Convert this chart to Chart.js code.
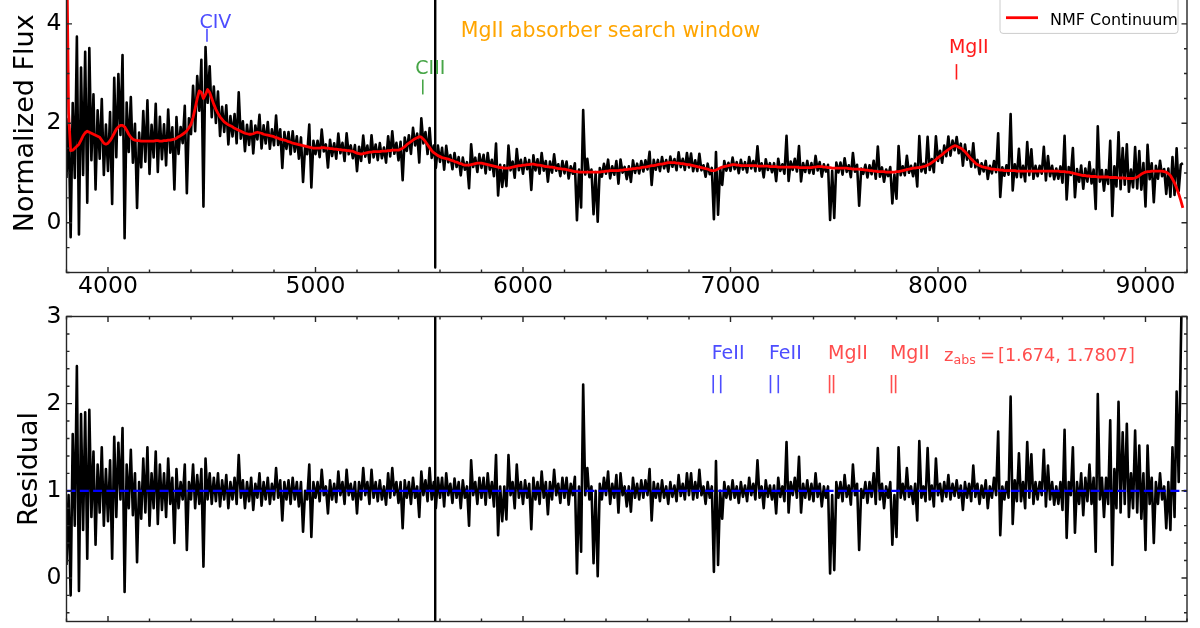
<!DOCTYPE html>
<html lang="en">
<head>
  <meta charset="UTF-8">
  <title>NMF continuum fit and residual</title>
  <script src="https://cdn.jsdelivr.net/npm/chart.js"></script>
  <style>
    html, body { margin: 0; padding: 0; background: #fff; overflow: hidden; }
    #page { position: relative; width: 1200px; height: 628px; overflow: hidden; background: #fff; }
    #fluxChart { position: absolute; left: 0; top: -45px; }
    #residChart { position: absolute; left: 0; top: 290px; }
  </style>
</head>
<body>
<div id="page">
  <canvas id="fluxChart" width="1200" height="345"></canvas>
  <canvas id="residChart" width="1200" height="370"></canvas>
</div>

<script>
  // wavelength grid: 3800 A to 9180 A, one sample every 10 A
  const waveStart = 3800;
  const waveStep = 10;

  // residual (flux / continuum), 20 samples per row (200 A)
  const residual = [
    0.15, 0.95, -0.20, 1.65, 0.60, 2.43, -0.15, 1.88, 0.55, 1.90, 0.22, 1.93, 0.70, 1.45, 0.38, 1.30, 0.75, 1.50, 0.60, 1.25,   // 3800
    0.65, 1.35, 0.22, 1.62, 0.70, 1.55, 0.90, 1.72, -0.16, 1.30, 0.80, 1.47, 0.72, 1.20, 0.18, 1.10, 0.68, 1.37, 0.75, 1.50,   // 4000
    0.60, 1.20, 0.80, 1.45, 0.62, 1.30, 0.78, 1.20, 0.70, 1.37, 0.85, 1.15, 0.40, 1.25, 0.80, 1.10, 0.90, 1.30, 0.32, 1.10,    // 4200
    0.90, 1.30, 0.80, 1.18, 0.85, 1.25, 0.13, 1.37, 0.90, 1.20, 0.85, 1.15, 0.88, 1.20, 0.82, 1.12, 0.90, 1.18, 0.80, 1.10,    // 4400
    0.90, 1.15, 0.85, 1.41, 0.92, 1.12, 0.80, 1.10, 0.88, 1.15, 0.78, 1.08, 0.92, 1.20, 0.83, 1.10, 0.90, 1.15, 0.85, 1.08,    // 4600
    0.90, 1.26, 0.92, 1.12, 0.66, 1.10, 0.90, 1.12, 0.85, 1.15, 0.90, 1.10, 0.82, 1.10, 0.53, 1.00, 0.90, 1.30, 0.47, 1.10,    // 4800
    0.92, 1.10, 0.88, 1.24, 0.95, 1.05, 0.74, 1.12, 0.90, 1.08, 0.87, 1.22, 0.95, 1.10, 0.85, 1.24, 0.95, 1.08, 0.90, 1.10,    // 5000
    0.74, 1.10, 0.90, 1.26, 0.95, 1.10, 0.85, 1.24, 0.92, 1.10, 0.88, 1.12, 0.90, 1.05, 0.84, 1.20, 0.92, 1.26, 0.95, 1.10,    // 5200
    0.86, 1.10, 0.57, 1.12, 0.92, 1.10, 0.85, 1.15, 0.92, 1.05, 0.70, 1.22, 0.95, 1.12, 0.88, 1.26, 0.90, 1.10, 0.80, 1.15,    // 5400
    0.92, 1.15, 0.82, 1.20, 0.95, 1.08, 0.86, 1.14, 0.92, 1.10, 0.80, 1.12, 0.92, 1.05, 0.60, 1.35, 0.95, 1.10, 0.85, 1.15,    // 5600
    0.92, 1.15, 0.84, 1.20, 0.92, 1.10, 0.82, 1.41, 0.49, 1.05, 0.65, 1.05, 0.67, 1.41, 0.95, 1.10, 0.80, 1.30, 0.92, 1.10,    // 5800
    0.85, 1.12, 0.92, 1.08, 0.56, 1.15, 0.90, 1.10, 0.85, 1.22, 0.92, 1.10, 0.73, 1.10, 0.90, 1.24, 0.95, 1.08, 0.86, 1.15,    // 6000
    0.92, 1.15, 0.84, 1.08, 0.95, 1.16, 0.05, 1.05, 0.30, 2.22, 0.95, 1.26, 0.90, 1.05, 0.17, 1.00, 0.02, 1.08, 0.90, 1.15,    // 6200
    0.95, 1.22, 0.85, 1.08, 0.92, 1.18, 0.75, 1.20, 0.95, 1.05, 0.82, 1.05, 0.76, 1.15, 0.92, 1.08, 0.90, 1.12, 0.92, 1.12,    // 6400
    0.95, 1.25, 0.66, 1.10, 0.92, 1.08, 0.88, 1.12, 0.92, 1.05, 0.85, 1.10, 0.93, 1.06, 0.88, 1.18, 0.94, 1.08, 0.90, 1.20,    // 6600
    0.95, 1.20, 0.90, 1.10, 0.92, 1.24, 0.95, 1.05, 0.85, 1.10, 0.92, 1.05, 0.07, 1.34, 0.15, 1.00, 0.68, 1.10, 0.92, 1.05,    // 6800
    0.90, 1.12, 0.92, 1.05, 0.86, 1.10, 0.93, 1.06, 0.88, 1.15, 0.95, 1.08, 0.90, 1.35, 0.92, 1.05, 0.80, 1.12, 0.93, 1.06,    // 7000
    0.90, 1.06, 0.74, 1.15, 0.93, 1.05, 0.88, 1.56, 0.75, 1.10, 0.95, 1.15, 0.92, 1.39, 0.75, 1.08, 0.92, 1.12, 0.90, 1.08,    // 7200
    0.88, 1.20, 0.93, 1.08, 0.82, 1.05, 0.92, 1.05, 0.05, 0.95, 0.09, 1.10, 0.92, 1.10, 0.88, 1.18, 0.93, 1.06, 0.84, 1.30,    // 7400
    0.95, 1.08, 0.32, 1.02, 0.92, 1.10, 0.86, 1.10, 0.93, 1.20, 0.85, 1.49, 0.90, 1.08, 0.80, 1.05, 0.92, 1.10, 0.38, 0.95,    // 7600
    0.47, 1.50, 0.92, 1.08, 0.90, 1.26, 0.93, 1.05, 0.85, 1.08, 0.66, 1.57, 0.92, 1.05, 0.88, 1.49, 0.90, 1.06, 0.82, 1.37,    // 7800
    0.95, 1.08, 0.88, 1.10, 0.93, 1.18, 0.90, 1.08, 0.94, 1.12, 0.92, 1.06, 0.78, 1.10, 0.92, 1.08, 0.88, 1.29, 0.93, 1.08,    // 8000
    0.85, 1.06, 0.92, 1.12, 0.80, 1.05, 0.92, 1.15, 0.95, 1.68, 0.49, 1.05, 0.90, 1.10, 0.92, 2.08, 0.62, 1.12, 0.88, 1.43,    // 8200
    0.88, 1.10, 0.80, 1.56, 0.92, 1.42, 0.85, 1.10, 0.90, 1.10, 0.95, 1.47, 0.82, 1.29, 0.90, 1.10, 0.84, 1.05, 0.85, 1.10,    // 8400
    0.78, 1.70, 0.46, 1.10, 0.95, 1.50, 0.52, 1.10, 0.85, 1.20, 0.72, 1.15, 0.88, 1.30, 0.85, 1.15, 0.30, 2.11, 0.90, 1.15,    // 8600
    0.70, 1.15, 0.85, 1.81, 0.15, 1.25, 0.80, 2.02, 0.75, 1.67, 0.85, 1.77, 0.70, 1.20, 0.80, 1.69, 0.75, 1.52, 0.68, 1.20,    // 8800
    0.32, 1.52, 0.85, 1.15, 0.40, 1.10, 0.85, 1.20, 0.90, 1.05, 0.57, 1.10, 0.55, 1.50, 0.70, 2.14, 1.10, 2.60, 4.00           // 9000
  ];

  // NMF continuum (red curve), same grid
  const continuum = [
    6.00, 2.20, 1.45, 1.46, 1.50, 1.54, 1.58, 1.66, 1.75, 1.81, 1.84, 1.82, 1.80, 1.78, 1.76, 1.74, 1.72, 1.66, 1.60, 1.58,    // 3800
    1.60, 1.65, 1.72, 1.80, 1.88, 1.93, 1.96, 1.96, 1.93, 1.86, 1.78, 1.72, 1.68, 1.66, 1.65, 1.65, 1.64, 1.64, 1.64, 1.64,    // 4000
    1.64, 1.64, 1.64, 1.65, 1.65, 1.64, 1.64, 1.65, 1.65, 1.66, 1.66, 1.67, 1.68, 1.70, 1.73, 1.75, 1.78, 1.81, 1.85, 1.91,    // 4200
    1.98, 2.12, 2.30, 2.50, 2.65, 2.62, 2.50, 2.58, 2.68, 2.62, 2.50, 2.38, 2.28, 2.20, 2.13, 2.08, 2.03, 2.00, 1.97, 1.95,    // 4400
    1.93, 1.90, 1.88, 1.86, 1.84, 1.82, 1.80, 1.79, 1.78, 1.78, 1.79, 1.81, 1.82, 1.81, 1.80, 1.78, 1.77, 1.76, 1.75, 1.74,    // 4600
    1.73, 1.71, 1.70, 1.68, 1.67, 1.66, 1.65, 1.63, 1.62, 1.60, 1.59, 1.58, 1.57, 1.56, 1.55, 1.54, 1.53, 1.52, 1.51, 1.50,    // 4800
    1.50, 1.50, 1.50, 1.51, 1.51, 1.50, 1.50, 1.49, 1.49, 1.48, 1.48, 1.47, 1.47, 1.46, 1.46, 1.45, 1.45, 1.44, 1.44, 1.42,    // 5000
    1.40, 1.39, 1.38, 1.39, 1.40, 1.41, 1.42, 1.42, 1.43, 1.43, 1.43, 1.43, 1.44, 1.44, 1.44, 1.45, 1.45, 1.46, 1.46, 1.46,    // 5200
    1.46, 1.48, 1.50, 1.53, 1.57, 1.60, 1.63, 1.66, 1.69, 1.71, 1.73, 1.72, 1.68, 1.63, 1.57, 1.51, 1.45, 1.41, 1.38, 1.35,    // 5400
    1.33, 1.31, 1.30, 1.29, 1.28, 1.26, 1.25, 1.23, 1.22, 1.20, 1.19, 1.17, 1.16, 1.16, 1.16, 1.17, 1.18, 1.19, 1.20, 1.20,    // 5600
    1.20, 1.19, 1.18, 1.17, 1.16, 1.15, 1.14, 1.13, 1.12, 1.11, 1.11, 1.10, 1.10, 1.10, 1.11, 1.12, 1.13, 1.14, 1.15, 1.15,    // 5800
    1.16, 1.16, 1.17, 1.17, 1.18, 1.18, 1.17, 1.16, 1.16, 1.15, 1.14, 1.13, 1.13, 1.12, 1.12, 1.11, 1.10, 1.09, 1.09, 1.08,    // 6000
    1.08, 1.07, 1.06, 1.05, 1.04, 1.03, 1.03, 1.02, 1.02, 1.02, 1.02, 1.02, 1.02, 1.02, 1.02, 1.02, 1.02, 1.02, 1.03, 1.03,    // 6200
    1.04, 1.04, 1.05, 1.05, 1.05, 1.05, 1.05, 1.06, 1.06, 1.07, 1.07, 1.08, 1.08, 1.09, 1.09, 1.10, 1.10, 1.11, 1.12, 1.12,    // 6400
    1.13, 1.14, 1.15, 1.15, 1.16, 1.17, 1.18, 1.18, 1.19, 1.20, 1.21, 1.21, 1.21, 1.21, 1.20, 1.20, 1.19, 1.19, 1.18, 1.17,    // 6600
    1.17, 1.16, 1.15, 1.14, 1.13, 1.12, 1.11, 1.10, 1.09, 1.08, 1.06, 1.05, 1.05, 1.06, 1.08, 1.10, 1.12, 1.13, 1.14, 1.15,    // 6800
    1.16, 1.17, 1.17, 1.16, 1.16, 1.15, 1.15, 1.15, 1.15, 1.15, 1.15, 1.15, 1.15, 1.14, 1.14, 1.14, 1.14, 1.14, 1.14, 1.13,    // 7000
    1.13, 1.13, 1.13, 1.12, 1.12, 1.12, 1.12, 1.12, 1.12, 1.12, 1.12, 1.12, 1.12, 1.11, 1.11, 1.11, 1.11, 1.11, 1.11, 1.11,    // 7200
    1.12, 1.12, 1.13, 1.13, 1.13, 1.12, 1.12, 1.11, 1.11, 1.10, 1.10, 1.10, 1.10, 1.10, 1.10, 1.10, 1.10, 1.09, 1.09, 1.08,    // 7400
    1.08, 1.08, 1.08, 1.07, 1.07, 1.06, 1.06, 1.05, 1.05, 1.04, 1.04, 1.03, 1.03, 1.03, 1.03, 1.02, 1.02, 1.02, 1.02, 1.02,    // 7600
    1.03, 1.03, 1.04, 1.05, 1.06, 1.07, 1.08, 1.09, 1.10, 1.10, 1.11, 1.11, 1.12, 1.13, 1.14, 1.16, 1.18, 1.21, 1.24, 1.27,    // 7800
    1.31, 1.34, 1.37, 1.41, 1.44, 1.47, 1.50, 1.53, 1.55, 1.54, 1.52, 1.50, 1.47, 1.43, 1.38, 1.33, 1.28, 1.24, 1.20, 1.17,    // 8000
    1.15, 1.13, 1.12, 1.11, 1.10, 1.09, 1.08, 1.08, 1.07, 1.07, 1.06, 1.06, 1.05, 1.05, 1.05, 1.05, 1.05, 1.05, 1.04, 1.04,    // 8200
    1.04, 1.04, 1.04, 1.04, 1.04, 1.04, 1.04, 1.04, 1.04, 1.04, 1.04, 1.04, 1.04, 1.04, 1.04, 1.04, 1.04, 1.04, 1.04, 1.03,    // 8400
    1.03, 1.03, 1.02, 1.02, 1.01, 1.00, 0.99, 0.98, 0.97, 0.96, 0.95, 0.95, 0.94, 0.94, 0.93, 0.93, 0.93, 0.92, 0.92, 0.92,    // 8600
    0.92, 0.92, 0.92, 0.91, 0.91, 0.91, 0.91, 0.90, 0.90, 0.90, 0.90, 0.89, 0.89, 0.89, 0.89, 0.90, 0.92, 0.95, 0.98, 1.00,    // 8800
    1.02, 1.03, 1.03, 1.04, 1.04, 1.04, 1.04, 1.04, 1.04, 1.03, 1.02, 0.99, 0.95, 0.88, 0.80, 0.70, 0.58, 0.45, 0.30           // 9000
  ];

  // the 5577 A sky line, one vertical stroke in both panels
  const skyLineWave = [5577, 5577];
  const skyLineFlux = [8.0, -0.9];
  const skyLineResidual = [5.6, -0.63];

  // unity reference in the residual panel
  const unityWave = [3800, 9200];
  const unityLevel = [1, 1];

  // emission lines marked in the upper panel
  const emissionNames = ['CIV', 'CIII', 'MgII'];
  const emissionWaves = [4477, 5517, 8089];

  // absorbers marked in the lower panel
  const absorberZ = [1.674, 1.7807];
  const feIIRest = [2586.65, 2600.17];
  const mgIIRest = [2796.35, 2803.53];
  const searchWindowStart = 5700;

  // axis ticks
  const waveTicks = [4000, 5000, 6000, 7000, 8000, 9000];
  const fluxTicks = [0, 2, 4];
  const residTicks = [0, 1, 2, 3];

  // ---------------------------------------------------------------
  const wavelength = residual.map((_, i) => waveStart + waveStep * i);
  const flux = residual.map((r, i) => r * continuum[i]);

  const pts = (xs, ys) => xs.map((x, i) => ({ x: x, y: ys[i] }));
  const steps = (lo, hi, step) => {
    const out = [];
    for (let k = 0; lo + k * step <= hi + 1e-9; k++) out.push(Math.round((lo + k * step) * 1000) / 1000);
    return out;
  };

  Chart.defaults.font.family = "'DejaVu Sans', sans-serif";
  Chart.defaults.color = '#000';

  const BLUE = 'rgb(77,77,255)';
  const RED_SOFT = 'rgb(255,77,77)';

  function xScale(showLabels, height) {
    return {
      type: 'linear', min: 3800, max: 9200,
      grid: { display: false, drawTicks: false },
      border: { display: false },
      ticks: { display: showLabels, padding: 0, maxRotation: 0, autoSkip: false,
               font: { size: 23.5 }, color: '#000', callback: v => String(v) },
      afterBuildTicks: s => { s.ticks = waveTicks.map(v => ({ value: v })); },
      afterFit: s => { s.height = height; }
    };
  }

  function yScale(min, max, ticks) {
    return {
      type: 'linear', min: min, max: max,
      grid: { display: false, drawTicks: false },
      border: { display: false },
      ticks: { padding: 5, font: { size: 23.5 }, color: '#000', callback: v => String(v) },
      afterBuildTicks: s => { s.ticks = ticks.map(v => ({ value: v })); },
      afterFit: s => { s.width = 66.5; }
    };
  }

  // frame with inward ticks on all four sides, plus the y title
  const frameTicks = {
    id: 'frameTicks',
    afterDatasetsDraw(chart, args, o) {
      const { ctx, chartArea: a, scales: { x, y } } = chart;
      ctx.save();
      ctx.strokeStyle = '#262626';
      ctx.lineWidth = 1.4;
      ctx.beginPath();
      const xMarks = (vals, len) => vals.forEach(v => {
        const p = x.getPixelForValue(v);
        ctx.moveTo(p, a.bottom); ctx.lineTo(p, a.bottom - len);
        ctx.moveTo(p, a.top); ctx.lineTo(p, a.top + len);
      });
      const yMarks = (vals, len) => vals.forEach(v => {
        const p = y.getPixelForValue(v);
        ctx.moveTo(a.left, p); ctx.lineTo(a.left + len, p);
        ctx.moveTo(a.right, p); ctx.lineTo(a.right - len, p);
      });
      xMarks(steps(3800, 9200, 200), 3);
      xMarks(waveTicks, 5.5);
      yMarks(steps(o.yLo, o.yHi, o.yMinor), 3);
      yMarks(o.yMajor, 5.5);
      ctx.stroke();
      ctx.strokeRect(a.left, a.top, a.right - a.left, a.bottom - a.top);

      ctx.fillStyle = '#000';
      ctx.font = '27px DejaVu Sans';
      ctx.textAlign = 'center';
      ctx.textBaseline = 'alphabetic';
      ctx.translate(a.left - o.titleGap, (a.top + a.bottom) / 2);
      ctx.rotate(-Math.PI / 2);
      ctx.fillText(o.title, 0, 0);
      ctx.restore();
    }
  };

  // emission line labels, search window label and legend (upper panel)
  const upperNotes = {
    id: 'upperNotes',
    afterDatasetsDraw(chart) {
      const { ctx, chartArea: a, scales: { x, y } } = chart;
      const colors = [BLUE, 'rgb(70,165,70)', '#ff1a1a'];
      const textY = [3.91, 3.0, 3.41];
      const tickY = [[3.64, 3.9], [2.58, 2.88], [2.88, 3.19]];
      ctx.save();
      ctx.font = '19px DejaVu Sans';
      ctx.textBaseline = 'alphabetic';
      ctx.textAlign = 'left';
      emissionNames.forEach((name, i) => {
        const px = x.getPixelForValue(emissionWaves[i]);
        ctx.fillStyle = colors[i];
        ctx.fillText(name, px - 7.5, y.getPixelForValue(textY[i]));
        ctx.strokeStyle = colors[i];
        ctx.lineWidth = 1.6;
        ctx.beginPath();
        ctx.moveTo(px, y.getPixelForValue(tickY[i][0]));
        ctx.lineTo(px, y.getPixelForValue(tickY[i][1]));
        ctx.stroke();
      });

      ctx.fillStyle = '#ffa500';
      ctx.font = '20.5px DejaVu Sans';
      ctx.fillText('MgII absorber search window', x.getPixelForValue(searchWindowStart), y.getPixelForValue(3.73));

      // legend box, its upper entry lies above the visible page
      const right = a.right - 9, left = right - 178, top = a.top + 8, bottom = a.top + 59.3;
      ctx.beginPath();
      ctx.roundRect(left, top, right - left, bottom - top, 3);
      ctx.fillStyle = 'rgba(255,255,255,0.85)';
      ctx.fill();
      ctx.strokeStyle = '#cccccc';
      ctx.lineWidth = 1;
      ctx.stroke();
      ctx.strokeStyle = '#000';
      ctx.lineWidth = 2.4;
      ctx.beginPath();
      ctx.moveTo(left + 6, a.top + 21); ctx.lineTo(left + 38, a.top + 21);
      ctx.stroke();
      ctx.strokeStyle = '#ff0000';
      ctx.lineWidth = 2.8;
      ctx.beginPath();
      ctx.moveTo(left + 6, a.top + 43.6); ctx.lineTo(left + 38, a.top + 43.6);
      ctx.stroke();
      ctx.fillStyle = '#000';
      ctx.font = '16px DejaVu Sans';
      ctx.fillText('NMF Continuum', left + 50, a.top + 50.9);
      ctx.restore();
    }
  };

  // absorber doublet marks and redshift note (lower panel)
  const lowerNotes = {
    id: 'lowerNotes',
    afterDatasetsDraw(chart) {
      const { ctx, scales: { x, y } } = chart;
      ctx.save();
      ctx.textAlign = 'left';
      ctx.textBaseline = 'alphabetic';
      const mark = (name, rest, color) => {
        absorberZ.forEach(z => {
          const p1 = x.getPixelForValue(rest[0] * (1 + z));
          const p2 = x.getPixelForValue(rest[1] * (1 + z));
          ctx.fillStyle = color;
          ctx.font = '19px DejaVu Sans';
          ctx.fillText(name, p1 - 1.5, y.getPixelForValue(2.51));
          ctx.strokeStyle = color;
          ctx.lineWidth = 1.6;
          ctx.beginPath();
          [p1, p2].forEach(p => {
            ctx.moveTo(p, y.getPixelForValue(2.12));
            ctx.lineTo(p, y.getPixelForValue(2.33));
          });
          ctx.stroke();
        });
      };
      mark('FeII', feIIRest, BLUE);
      mark('MgII', mgIIRest, RED_SOFT);

      const x0 = x.getPixelForValue(8029), base = y.getPixelForValue(2.49);
      ctx.fillStyle = RED_SOFT;
      ctx.font = '18px DejaVu Sans';
      ctx.fillText('z', x0, base);
      ctx.font = '12.6px DejaVu Sans';
      ctx.fillText('abs', x0 + 9.5, base + 3.5);
      ctx.font = '18px DejaVu Sans';
      ctx.fillText('=', x0 + 36, base);
      ctx.font = '17.6px DejaVu Sans';
      ctx.fillText('[1.674, 1.7807]', x0 + 54, base);
      ctx.restore();
    }
  };

  const lineStyle = { pointRadius: 0, tension: 0, borderJoinStyle: 'round', clip: 0, fill: false };

  new Chart(document.getElementById('fluxChart'), {
    type: 'line',
    data: {
      datasets: [
        Object.assign({ label: 'NMF Continuum', data: pts(wavelength, continuum),
          borderColor: '#ff0000', borderWidth: 2.8, order: 0 }, lineStyle),
        Object.assign({ label: 'Flux', data: pts(wavelength, flux),
          borderColor: '#000', borderWidth: 2.6, order: 1 }, lineStyle),
        Object.assign({ label: 'Sky line', data: pts(skyLineWave, skyLineFlux),
          borderColor: '#000', borderWidth: 2.4, order: 2 }, lineStyle)
      ]
    },
    options: {
      responsive: false, animation: false, devicePixelRatio: 1,
      layout: { padding: { top: 12.4, right: 13, bottom: 0, left: 0 } },
      scales: { x: xScale(true, 27.5), y: yScale(-1, 5, fluxTicks) },
      plugins: {
        legend: { display: false }, tooltip: { enabled: false },
        frameTicks: { yLo: -1, yHi: 5, yMinor: 0.5, yMajor: fluxTicks, title: 'Normalized Flux', titleGap: 33.2 }
      }
    },
    plugins: [frameTicks, upperNotes]
  });

  new Chart(document.getElementById('residChart'), {
    type: 'line',
    data: {
      datasets: [
        Object.assign({ label: 'Unity', data: pts(unityWave, unityLevel),
          borderColor: '#0000ff', borderWidth: 2.2, borderDash: [9, 4.3], order: 0 }, lineStyle),
        Object.assign({ label: 'Residual', data: pts(wavelength, residual),
          borderColor: '#000', borderWidth: 2.6, order: 1 }, lineStyle),
        Object.assign({ label: 'Sky line', data: pts(skyLineWave, skyLineResidual),
          borderColor: '#000', borderWidth: 2.4, order: 2 }, lineStyle)
      ]
    },
    options: {
      responsive: false, animation: false, devicePixelRatio: 1,
      layout: { padding: { top: 26.5, right: 13, bottom: 0, left: 0 } },
      scales: { x: xScale(false, 38.5), y: yScale(-0.5, 3, residTicks) },
      plugins: {
        legend: { display: false }, tooltip: { enabled: false },
        frameTicks: { yLo: -0.4, yHi: 3, yMinor: 0.2, yMajor: residTicks, title: 'Residual', titleGap: 29.8 }
      }
    },
    plugins: [frameTicks, lowerNotes]
  });
</script>
</body>
</html>
